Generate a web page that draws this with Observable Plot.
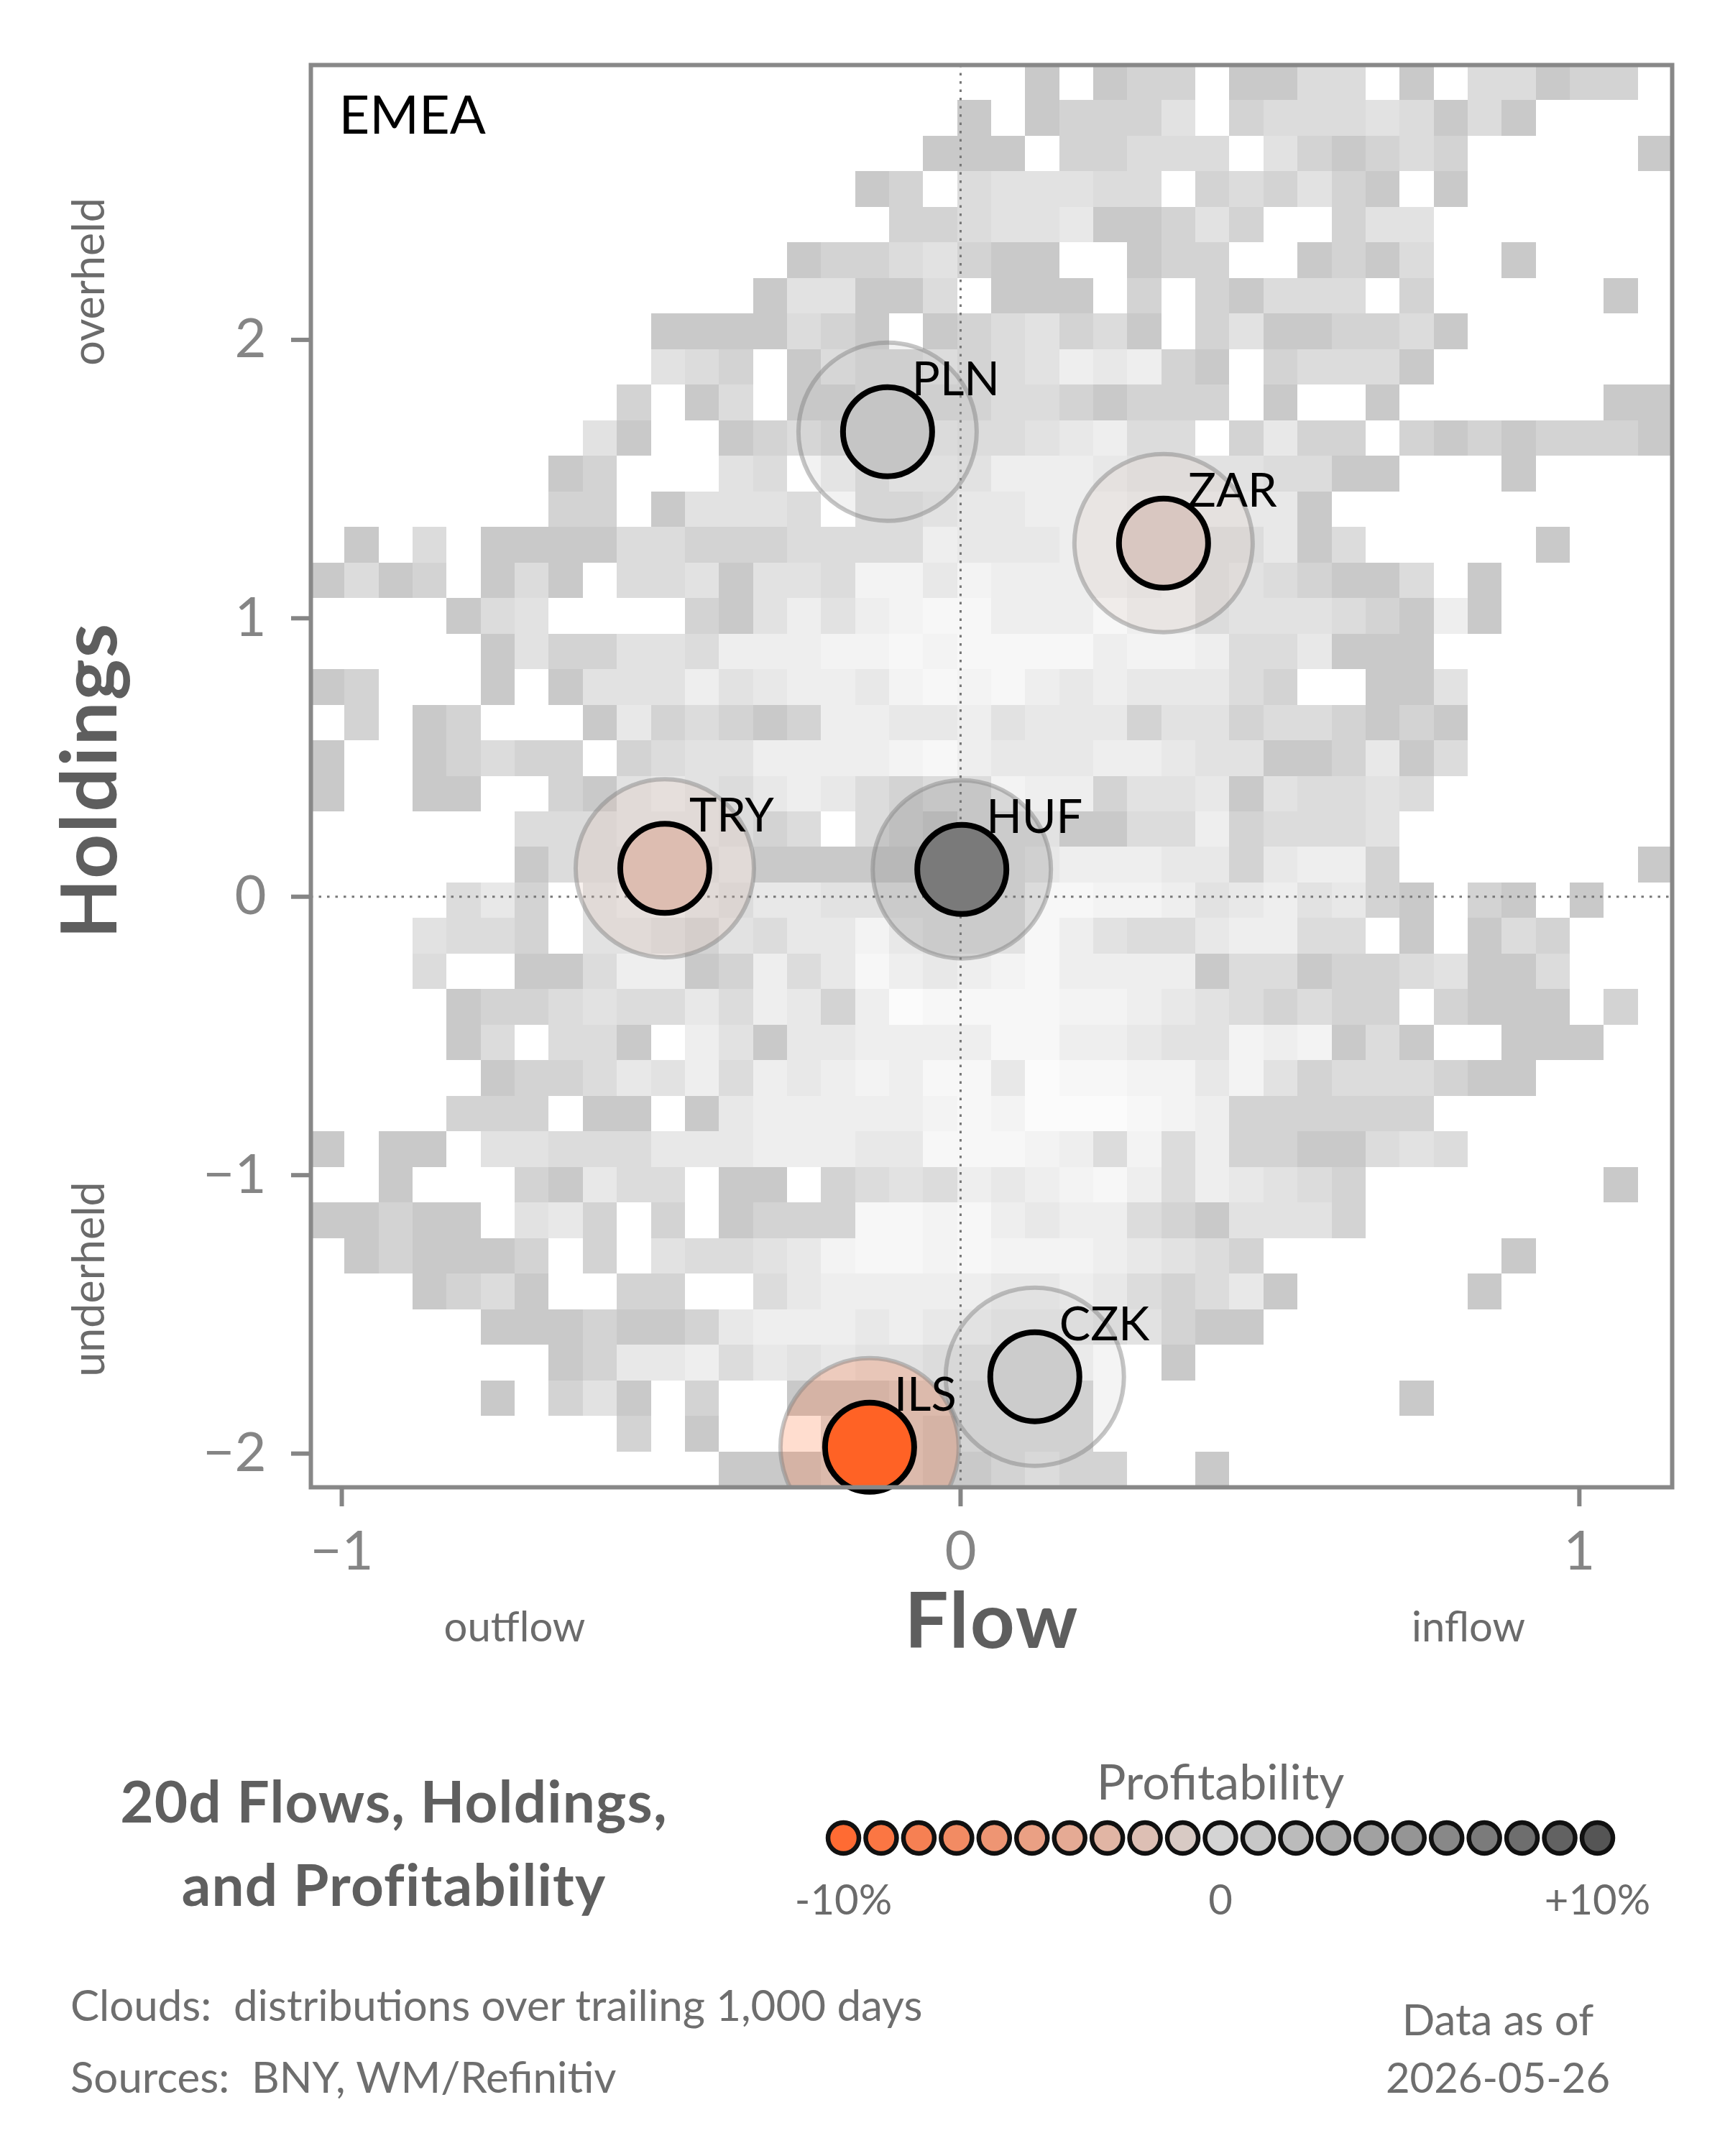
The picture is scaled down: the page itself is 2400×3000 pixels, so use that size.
<!DOCTYPE html>
<html>
<head>
<meta charset="utf-8">
<script src="https://cdn.jsdelivr.net/npm/d3@7"></script>
<script src="https://cdn.jsdelivr.net/npm/@observablehq/plot@0.6"></script>
<style>
  html, body { margin: 0; padding: 0; background: #fff; }
  #page { position: relative; width: 2400px; height: 3000px; overflow: hidden; font-family: Lato, sans-serif; }
  #page > * { position: absolute; left: 0; }
</style>
</head>
<body>
<div id="page"></div>
<script>
// ---------------- data ----------------
const region = "EMEA";
const currencies    = ["PLN", "ZAR", "TRY", "HUF", "CZK", "ILS"];
const flows         = [-0.118, 0.328, -0.478, 0.002, 0.120, -0.147];
const holdings      = [1.670, 1.270, 0.102, 0.098, -1.724, -1.977];
const profitability = [1.2, -1.2, -2.2, 7.1, 0.6, -10.9];

const xTicks = [-1, 0, 1];
const yTicks = [-2, -1, 0, 1, 2];
const legendSteps = [-10, -9, -8, -7, -6, -5, -4, -3, -2, -1, 0, 1, 2, 3, 4, 5, 6, 7, 8, 9, 10];
const legendTicks = [-10, 0, 10];

// cloud histogram: 40 x 40 bins over these extents, top row first; '.' = empty, 1 = sparse ... 9 = densest
const flowExtent = [-1.05, 1.15];
const holdingsExtent = [-2.121, 2.987];
const cloudRows = [
  "...................." + ".1.122.1133.1.33122.",
  "...................1" + ".12224.233343131....",
  "..................11" + "1.22333.421232.....1",
  "................12.3" + "44433.232421.1......",
  ".................223" + "44511242..244.......",
  "..............122342" + "11..122..1213..1....",
  ".............144113." + "111.2.21333.2.....1.",
  "..........1111321.12" + "34231.24112231......",
  "..........432.132232" + "3465621.23331.......",
  ".........2.13.112222" + "3321222.1..1......11",
  "........41..12322343" + "345633.2522.21212221",
  ".......12...43.63554" + "666544443311...1....",
  ".......22.14443.3345" + "5666555551..........",
  ".1.3.111133222333365" + "55664433513.....1...",
  "1312.131.33414437757" + "6666563432113.1.....",
  "....134....214646788" + "666866344432161.....",
  ".....142244366677878" + "8886776335111.......",
  "12...1.1444645665787" + "865655532..114......",
  ".2.12...152321266556" + "45552442332121......",
  "1..12322.23446666786" + "55566544112513......",
  "1..11..2145435653233" + "7662445143343.......",
  "......333444323.3213" + "441133623334........",
  "......13333341111122" + "456665525662.......1",
  "....352.456435544444" + "4887764564521.21.1..",
  "...4332.443243557544" + "48643356633.1.132...",
  "...3..11366126358656" + "78666613312234113...",
  "....1223433536526988" + "887765432322.2111.2.",
  "....13.331.641556666" + "8866544767131..111..",
  ".....122354636567688" + "5988775742333211....",
  "....222.11.156666678" + "7999876222222.......",
  "1.11.443335556665588" + "87637362211343......",
  "..1...21533.11.23436" + "56786365432.......1.",
  "11211.452.2.12228878" + "65663214442.........",
  ".121112.2.4334578878" + "77765432.......1....",
  "...1231..22..3566666" + "556532351.....1.....",
  ".....111211256665655" + "44434211............",
  ".......1255635454433" + "337..1..............",
  ".....1.241.2..111222" + "222.........1.......",
  ".........2.1...33212" + "222.................",
  "............11122211" + "2322..1............."
];

// ---------------- tables built from the arrays ----------------
const nBins = 40;
const bw = (flowExtent[1] - flowExtent[0]) / nBins;
const bh = (holdingsExtent[1] - holdingsExtent[0]) / nBins;
const cells = [];
cloudRows.forEach((row, r) => {
  for (let c = 0; c < nBins; c++) {
    const ch = row[c];
    if (ch && ch !== ".") {
      const x1 = flowExtent[0] + c * bw;
      const y2 = holdingsExtent[1] - r * bh;
      cells.push({x1, x2: x1 + bw, y1: y2 - bh, y2, level: +ch});
    }
  }
});
const bubbles = currencies.map((ccy, i) => ({ccy, flow: flows[i], holdings: holdings[i], profit: profitability[i]}));

// ---------------- scales / styles ----------------
const profitColor = {type: "linear", domain: [-10, 0, 10], range: ["#ff6b33", "#d4d4d4", "#555555"], interpolate: "rgb", clamp: false};
const cloudOpacity = {type: "linear", domain: [1, 2, 3, 4, 5, 6, 7, 8, 9], range: [0.212, 0.173, 0.137, 0.114, 0.090, 0.067, 0.047, 0.031, 0.016]};
const pctFormat = d => d === 0 ? "0" : (d > 0 ? "+" : "-") + Math.abs(d) + "%";
const intFormat = d => d < 0 ? "\u2212" + Math.abs(d) : String(d);

const page = document.getElementById("page");

// ---------------- main chart ----------------
const main = Plot.plot({
  width: 2400, height: 2200,
  marginLeft: 432, marginRight: 74, marginTop: 90, marginBottom: 131,
  x: {domain: flowExtent},
  y: {domain: holdingsExtent},
  color: profitColor,
  opacity: cloudOpacity,
  style: {fontFamily: "Lato, sans-serif", fontSize: "74px", color: "#858585", background: "transparent", overflow: "visible"},
  marks: [
    Plot.rect(cells, {x1: "x1", x2: "x2", y1: "y1", y2: "y2", fill: "#000", fillOpacity: "level", shapeRendering: "crispEdges"}),
    Plot.ruleX([0], {stroke: "#777", strokeWidth: 3, strokeDasharray: "3.5,8"}),
    Plot.ruleY([0], {stroke: "#777", strokeWidth: 3, strokeDasharray: "3.5,8"}),
    Plot.dot(bubbles, {x: "flow", y: "holdings", r: 124, fill: "profit", fillOpacity: 0.22, stroke: "#7f7f7f", strokeOpacity: 0.45, strokeWidth: 6, clip: true}),
    Plot.dot(bubbles, {x: "flow", y: "holdings", r: 62, fill: "profit", stroke: "#000", strokeWidth: 8}),
    Plot.text(bubbles, {x: "flow", y: "holdings", text: "ccy", dx: 34, dy: -51, textAnchor: "start", lineAnchor: "bottom", fontSize: 65, fill: "#000"}),
    Plot.text([region], {frameAnchor: "top-left", dx: 39, dy: 43, textAnchor: "start", lineAnchor: "top", fontSize: 74, fill: "#000"}),
    Plot.frame({stroke: "#888", strokeWidth: 6}),
    Plot.axisX({ticks: xTicks, tickFormat: intFormat, tickSize: 27, tickPadding: 34, strokeWidth: 6, label: null, fontSize: 76}),
    Plot.axisY({ticks: yTicks, tickFormat: intFormat, tickSize: 27, tickPadding: 35, strokeWidth: 6, label: null, fontSize: 76})
  ]
});
main.style.top = "0px";
page.appendChild(main);

// ---------------- legend ----------------
const legend = Plot.plot({
  width: 2400, height: 200,
  marginLeft: 1173, marginRight: 178, marginTop: 59, marginBottom: 139,
  x: {domain: [-10, 10]},
  color: profitColor,
  style: {fontFamily: "Lato, sans-serif", fontSize: "58px", color: "#6b6b6b", background: "transparent", overflow: "visible"},
  marks: [
    Plot.dot(legendSteps, {x: d => d, fill: d => d, r: 21.5, stroke: "#111", strokeWidth: 6.5}),
    Plot.axisX({ticks: legendTicks, tickFormat: pctFormat, tickSize: 0, tickPadding: 64, label: null, fontSize: 58})
  ]
});
legend.style.top = "2497px";
page.appendChild(legend);

// ---------------- annotations ----------------
const notes = [
  {text: "Holdings", x: 162, y: 1086, rotate: -90, size: 108, weight: 700, fill: "#5e5e5e", ls: 2},
  {text: "overheld", x: 145, y: 392, rotate: -90, size: 61, weight: 400, fill: "#6b6b6b"},
  {text: "underheld", x: 145, y: 1780, rotate: -90, size: 61, weight: 400, fill: "#6b6b6b"},
  {text: "Flow", x: 1380, y: 2293, size: 108, weight: 700, fill: "#5e5e5e", ls: 2},
  {text: "outflow", x: 716, y: 2284, size: 58, weight: 400, fill: "#6b6b6b"},
  {text: "inflow", x: 2043, y: 2284, size: 58, weight: 400, fill: "#6b6b6b"},
  {text: "20d Flows, Holdings,", x: 548, y: 2536, size: 80, weight: 700, fill: "#5f5f5f", ls: 1.2},
  {text: "and Profitability", x: 548, y: 2652, size: 80, weight: 700, fill: "#5f5f5f", ls: 1.2},
  {text: "Profitability", x: 1698, y: 2504, size: 68, weight: 400, fill: "#6b6b6b"},
  {text: "Clouds:  distributions over trailing 1,000 days", x: 98, y: 2812, anchor: "start", size: 60, weight: 400, fill: "#6e6e6e"},
  {text: "Sources:  BNY, WM/Refinitiv", x: 98, y: 2912, anchor: "start", size: 60, weight: 400, fill: "#6e6e6e"},
  {text: "Data as of", x: 2084, y: 2832, size: 60, weight: 400, fill: "#6e6e6e"},
  {text: "2026-05-26", x: 2084, y: 2912, size: 58, weight: 400, fill: "#6e6e6e"}
];
const overlay = d3.create("svg").attr("width", 2400).attr("height", 3000)
  .style("top", "0px").style("pointer-events", "none")
  .attr("font-family", "Lato, sans-serif");
overlay.selectAll("text").data(notes).join("text")
  .attr("transform", d => `translate(${d.x},${d.y})` + (d.rotate ? ` rotate(${d.rotate})` : ""))
  .attr("text-anchor", d => d.anchor || "middle")
  .attr("font-size", d => d.size)
  .attr("font-weight", d => d.weight)
  .attr("letter-spacing", d => d.ls || 0)
  .attr("fill", d => d.fill)
  .style("white-space", "pre")
  .text(d => d.text);
page.appendChild(overlay.node());
</script>
</body>
</html>
